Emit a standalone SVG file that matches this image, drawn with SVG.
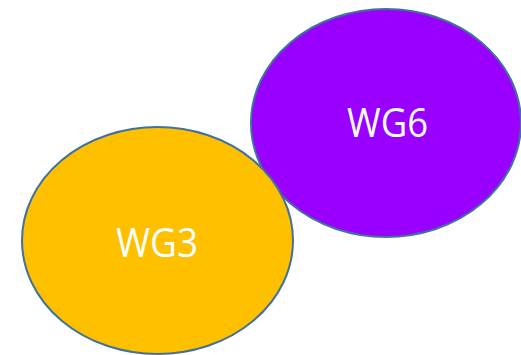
<svg xmlns="http://www.w3.org/2000/svg" width="521" height="355" viewBox="0 0 521 355">
<style>
.node{stroke:#41719C;stroke-width:2}
.lbl{font-family:"Open Sans","Liberation Sans",Arial,sans-serif;font-size:40px;fill:#FFFFFF;text-anchor:middle}
</style>
<rect width="521" height="355" fill="#FFFFFF"/>
<g id="connectors"></g>
<g id="wg6">
<ellipse class="node" cx="386" cy="123" rx="135" ry="114" fill="#9900FF"/>
<text class="lbl" x="387.5" y="137" textLength="81" lengthAdjust="spacingAndGlyphs">WG6</text>
</g>
<g id="wg3">
<ellipse class="node" cx="157.5" cy="240.5" rx="135.5" ry="113.5" fill="#FFC000"/>
<text class="lbl" x="157" y="257" textLength="82" lengthAdjust="spacingAndGlyphs">WG3</text>
</g>
</svg>
